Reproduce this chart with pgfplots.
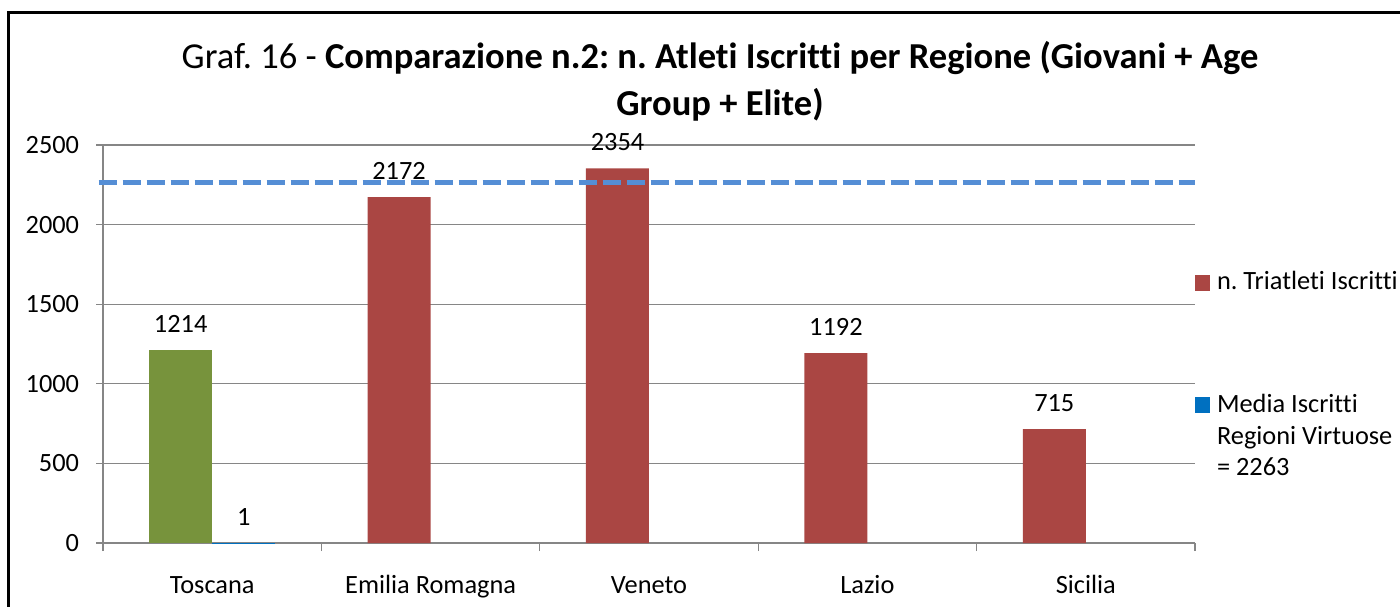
\documentclass[border=0pt]{standalone}
\usepackage{pgfplots}
\pgfplotsset{compat=1.18}
\usepackage{fontspec}
\setmainfont{Carlito}[Ligatures=NoCommon]
\frenchspacing
\definecolor{barred}{RGB}{170,70,67}
\definecolor{bargreen}{RGB}{119,147,60}
\definecolor{dashblue}{RGB}{85,142,213}
\definecolor{legblue}{RGB}{0,112,192}
\definecolor{axisgray}{RGB}{134,134,134}
\begin{document}
\begin{tikzpicture}[x=1cm,y=1cm]
\useasboundingbox (0,0) rectangle (14,6.06);
\draw[line width=0.03cm] (0.09,-0.1) -- (0.09,5.935) -- (14.1,5.935);
\node[align=center, font=\fontsize{10.4}{13.4}\selectfont] at (7.2,5.25)
  {Graf. 16 - \textbf{Comparazione n.2: n. Atleti Iscritti per Regione (Giovani + Age}\\\textbf{Group + Elite)}};
\begin{axis}[
  at={(1.03cm,0.63cm)}, anchor=south west,
  scale only axis, width=10.92cm, height=3.98cm,
  clip=false,
  ybar, bar width=0.63cm,
  xmin=-0.5, xmax=4.5, ymin=0, ymax=2500,
  /pgf/number format/assume math mode=true,
  /pgf/number format/1000 sep={},
  axis x line*=bottom, axis y line*=left,
  axis line style={color=axisgray, line width=0.013cm},
  xtick={0,1,2,3,4},
  xticklabels={Toscana,Emilia Romagna,Veneto,Lazio,Sicilia},
  major x tick style={draw=none},
  minor xtick={-0.5,0.5,1.5,2.5,3.5,4.5},
  ytick={0,500,1000,1500,2000,2500},
  ymajorgrids,
  grid style={color=axisgray, line width=0.013cm},
  tick align=outside,
  major tick length=0.065cm, minor tick length=0.08cm,
  tick style={color=axisgray, line width=0.013cm},
  tick label style={font=\fontsize{7.5}{9}\selectfont},
  yticklabel style={xshift=-0.05cm},
  xticklabel style={text height=1.3ex, text depth=0.3ex, yshift=-0.10cm},
  nodes near coords,
  every node near coord/.append style={font=\fontsize{7.5}{9}\selectfont, color=black, yshift=0.05cm},
  legend cell align=left,
  legend style={draw=none, fill=none, inner sep=0pt, outer sep=0pt,
    at={(axis description cs:1.0,0.70)}, anchor=north west,
    font=\fontsize{7.5}{9}\selectfont, row sep=0.85cm,
    cells={anchor=base west}},
  legend image code/.code={\fill[#1] (0cm,-0.01cm) rectangle (0.15cm,0.15cm);},
]
\addplot[fill=barred, draw=none, bar shift=-0.315cm] coordinates {(1,2172) (2,2354) (3,1192) (4,715)};
\addlegendentry{n. Triatleti Iscritti}
\addplot[fill=legblue, draw=none, bar shift=0.315cm] coordinates {(0,1)};
\addlegendentry{\parbox[t]{2.5cm}{Media Iscritti\\Regioni Virtuose\\= 2263}}
\addplot[fill=bargreen, draw=none, bar shift=-0.315cm, forget plot] coordinates {(0,1214)};
\addplot[sharp plot, no marks, nodes near coords={}, color=dashblue, line width=0.05cm,
  dash pattern=on 0.18cm off 0.06cm, forget plot] coordinates {(-0.52,2263) (4.5,2263)};
\end{axis}
\end{tikzpicture}
\end{document}
